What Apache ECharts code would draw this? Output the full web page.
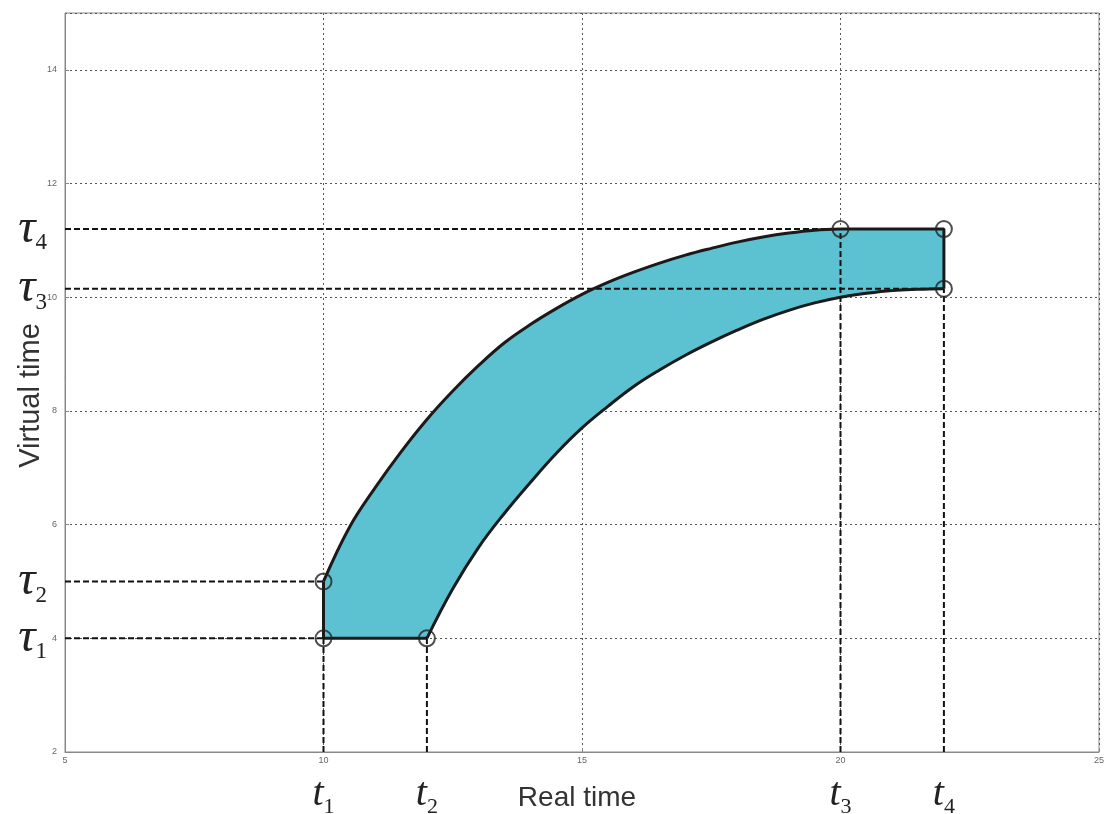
<!DOCTYPE html>
<html>
<head>
<meta charset="utf-8">
<script src="https://cdn.jsdelivr.net/npm/echarts@6/dist/echarts.min.js"></script>
<style>
  html, body { margin: 0; padding: 0; background: #fff; }
  #chart { width: 1105px; height: 814px; }
</style>
</head>
<body>
<div id="chart"></div>
<script>
// real-time marks t1..t4 and virtual-time marks tau1..tau4
const tMarks = [10, 12, 20, 22]
const tauMarks = [4, 5, 10.15, 11.2]

// upper edge of the band, from (t1, tau2) to (t3, tau4)
const upperX = [10, 10.5, 11, 11.5, 12, 12.5, 13, 13.5, 14, 14.5, 15, 15.5, 16, 16.5, 17, 17.5, 18, 18.5, 19, 19.5, 20]
const upperY = [5, 5.95, 6.65, 7.28, 7.85, 8.35, 8.8, 9.2, 9.52, 9.8, 10.05, 10.26, 10.44, 10.6, 10.74, 10.86, 10.97, 11.06, 11.13, 11.18, 11.2]

// lower edge of the band, from (t2, tau1) to (t4, tau3)
const lowerX = [12, 12.5, 13, 13.5, 14, 14.5, 15, 15.5, 16, 16.5, 17, 17.5, 18, 18.5, 19, 19.5, 20, 20.5, 21, 21.5, 22]
const lowerY = [4, 4.87, 5.6, 6.2, 6.74, 7.25, 7.7, 8.08, 8.43, 8.72, 8.98, 9.21, 9.42, 9.61, 9.77, 9.9, 10.0, 10.07, 10.12, 10.14, 10.15]

const upper = upperX.map((x, i) => [x, upperY[i]])
const lower = lowerX.map((x, i) => [x, lowerY[i]])
// closed outline: upper edge, right side, lower edge back, bottom side
const band = upper.concat([[tMarks[3], tauMarks[3]]], lower.slice().reverse(), [[tMarks[0], tauMarks[0]]])

const corners = [
  [tMarks[0], tauMarks[0]], [tMarks[0], tauMarks[1]], [tMarks[1], tauMarks[0]],
  [tMarks[2], tauMarks[3]], [tMarks[3], tauMarks[3]], [tMarks[3], tauMarks[2]]
]

const guides = [
  [[5, tauMarks[0]], [tMarks[0], tauMarks[0]]],
  [[5, tauMarks[1]], [tMarks[0], tauMarks[1]]],
  [[5, tauMarks[2]], [tMarks[3], tauMarks[2]]],
  [[5, tauMarks[3]], [tMarks[2], tauMarks[3]]],
  [[tMarks[0], 2], [tMarks[0], tauMarks[0]]],
  [[tMarks[1], 2], [tMarks[1], tauMarks[0]]],
  [[tMarks[2], 2], [tMarks[2], tauMarks[3]]],
  [[tMarks[3], 2], [tMarks[3], tauMarks[2]]]
]

const symFont = 'Liberation Serif'
const tRich = {
  m: { fontFamily: symFont, fontStyle: 'italic', fontSize: 40, color: '#222' },
  s: { fontFamily: symFont, fontSize: 22, color: '#222', padding: [26, 0, 0, 0] }
}
const tauRich = {
  m: { fontFamily: symFont, fontStyle: 'italic', fontSize: 48, color: '#222' },
  s: { fontFamily: symFont, fontSize: 23, color: '#222', padding: [28, 0, 0, 0] }
}

const gridLine = { show: true, lineStyle: { color: '#555', width: 1, type: [2, 3] } }
const tinyLabel = { fontSize: 9, color: '#666', fontFamily: 'Liberation Sans' }

const myChart = echarts.init(document.getElementById('chart'))
myChart.setOption({
  animation: false,
  grid: {
    left: 65, right: 6, top: 13, bottom: 62,
    outerBoundsMode: 'none',
    containLabel: false,
    show: true, borderColor: '#888', borderWidth: 1
  },
  xAxis: [
    {
      type: 'value', min: 5, max: 25, interval: 5,
      name: 'Real time', nameLocation: 'middle', nameGap: 32,
      nameTextStyle: { fontFamily: 'Liberation Sans', fontSize: 28, color: '#333', padding: [0, 10, 0, 0] },
      axisLine: { lineStyle: { color: '#888' } },
      axisTick: { inside: true, length: 4, lineStyle: { color: '#888' } },
      axisLabel: Object.assign({ margin: 4 }, tinyLabel),
      splitLine: gridLine
    },
    {
      type: 'value', min: 5, max: 25, position: 'bottom',
      axisLine: { show: false }, axisTick: { show: false }, splitLine: { show: false },
      axisLabel: {
        customValues: tMarks, margin: 18,
        formatter: v => '{m|t}{s|' + (tMarks.indexOf(v) + 1) + '}',
        rich: tRich
      }
    }
  ],
  yAxis: [
    {
      type: 'value', min: 2, max: 15, interval: 2,
      name: 'Virtual time', nameLocation: 'middle', nameGap: 20,
      nameMoveOverlap: false,
      nameTextStyle: { fontFamily: 'Liberation Sans', fontSize: 29, color: '#333', padding: [0, 26, 0, 0] },
      axisLine: { lineStyle: { color: '#888' } },
      axisTick: { inside: true, length: 4, lineStyle: { color: '#888' } },
      axisLabel: Object.assign({ margin: 8, showMaxLabel: false }, tinyLabel),
      splitLine: gridLine
    },
    {
      type: 'value', min: 2, max: 15, position: 'left',
      axisLine: { show: false }, axisTick: { show: false }, splitLine: { show: false },
      axisLabel: {
        customValues: tauMarks, margin: 18,
        formatter: v => '{m|τ}{s|' + (tauMarks.indexOf(v) + 1) + '}',
        rich: tauRich
      }
    }
  ],
  series: [
    {
      // shaded band
      type: 'custom',
      z: 1,
      data: band,
      renderItem: function (params, api) {
        if (params.dataIndex !== 0) return
        return {
          type: 'polygon',
          shape: { points: band.map(p => api.coord(p)) },
          style: { fill: '#5cc1d1' }
        }
      }
    }
  ].concat(guides.map(g => ({
    type: 'line',
    z: 2,
    data: g,
    showSymbol: false,
    lineStyle: { color: '#111', width: 2, type: [6, 3] }
  }))).concat([
    {
      type: 'line', z: 3, data: upper, smooth: 0.4, showSymbol: false,
      lineStyle: { color: '#1a1a1a', width: 3 }
    },
    {
      type: 'line', z: 3, data: lower, smooth: 0.4, showSymbol: false,
      lineStyle: { color: '#1a1a1a', width: 3 }
    },
    {
      type: 'line', z: 3, showSymbol: false,
      data: [[tMarks[1], tauMarks[0]], [tMarks[0], tauMarks[0]], [tMarks[0], tauMarks[1]]],
      lineStyle: { color: '#1a1a1a', width: 3 }
    },
    {
      type: 'line', z: 3, showSymbol: false,
      data: [[tMarks[2], tauMarks[3]], [tMarks[3], tauMarks[3]], [tMarks[3], tauMarks[2]]],
      lineStyle: { color: '#1a1a1a', width: 3 }
    },
    {
      type: 'scatter', z: 4, data: corners, symbol: 'circle', symbolSize: 16,
      itemStyle: { color: 'rgba(0,0,0,0)', borderColor: '#222', borderWidth: 2 }
    }
  ])
})
</script>
</body>
</html>
